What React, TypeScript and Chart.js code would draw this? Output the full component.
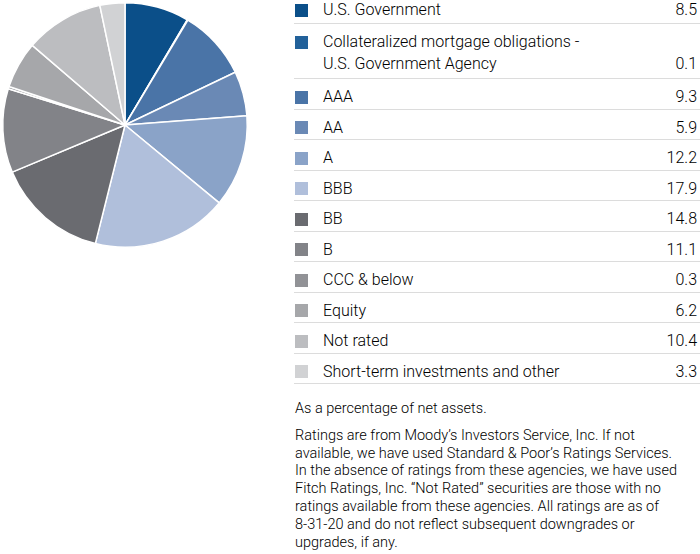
import React, { useEffect, useRef } from "react";
import { Chart, registerables } from "chart.js";

Chart.register(...registerables);

const categories = [
  "U.S. Government",
  "Collateralized mortgage obligations -\nU.S. Government Agency",
  "AAA",
  "AA",
  "A",
  "BBB",
  "BB",
  "B",
  "CCC & below",
  "Equity",
  "Not rated",
  "Short-term investments and other",
];

const percentages = [8.5, 0.1, 9.3, 5.9, 12.2, 17.9, 14.8, 11.1, 0.3, 6.2, 10.4, 3.3];

const sliceColors = [
  "#0b4f89",
  "#22619a",
  "#4a74a7",
  "#6a89b5",
  "#8aa3c8",
  "#b0bfdb",
  "#6a6b70",
  "#828388",
  "#919296",
  "#a6a7aa",
  "#bcbdc0",
  "#d1d2d4",
];

const noteLines = [
  "Ratings are from Moody\u2019s Investors Service, Inc. If not",
  "available, we have used Standard & Poor\u2019s Ratings Services.",
  "In the absence of ratings from these agencies, we have used",
  "Fitch Ratings, Inc. \u201cNot Rated\u201d securities are those with no",
  "ratings available from these agencies. All ratings are as of",
  "8-31-20 and do not reflect subsequent downgrades or",
  "upgrades, if any.",
];

const FONT = "Roboto, 'Open Sans', sans-serif";
const TEXT = "#000000";

export default function App() {
  const ref = useRef<HTMLCanvasElement | null>(null);

  useEffect(() => {
    if (!ref.current) return;
    const chart = new Chart(ref.current, {
      type: "pie",
      data: {
        labels: categories,
        datasets: [
          {
            data: percentages,
            backgroundColor: sliceColors,
            borderColor: "#ffffff",
            borderWidth: 1.5,
          },
        ],
      },
      options: {
        responsive: false,
        animation: false,
        layout: { padding: 2 },
        plugins: {
          legend: { display: false },
          tooltip: { enabled: false },
        },
      },
    });
    return () => chart.destroy();
  }, []);

  return (
    <div
      style={{
        position: "absolute",
        left: 0,
        top: 0,
        width: 700,
        height: 554,
        background: "#fff",
        fontFamily: FONT,
        fontWeight: 300,
        color: TEXT,
      }}
    >
      <canvas
        ref={ref}
        width={250}
        height={250}
        style={{ position: "absolute", left: 0, top: 0, width: 250, height: 250 }}
      />
      <div style={{ position: "absolute", left: 294, top: -1, width: 406 }}>
        {categories.map((c, i) => {
          const lines = c.split("\n");
          const first = i === 0;
          const multi = lines.length > 1;
          return (
            <div
              key={i}
              style={{
                position: "relative",
                boxSizing: "border-box",
                height: first ? 25 : multi ? 55 : 30.5,
                paddingTop: first ? 0 : 7,
                borderBottom: "1px solid #dcdcdc",
                fontSize: 16,
                lineHeight: "22px",
              }}
            >
              <div
                style={{
                  position: "absolute",
                  left: 1,
                  top: (first ? 0 : 7) + 4.5,
                  width: 13,
                  height: 13,
                  background: sliceColors[i],
                }}
              />
              <div style={{ marginLeft: 29, whiteSpace: "pre" }}>{c}</div>
              <div
                style={{
                  position: "absolute",
                  right: 3,
                  top: (first ? 0 : 7) + (lines.length - 1) * 22,
                }}
              >
                {percentages[i].toFixed(1)}
              </div>
            </div>
          );
        })}
      </div>
      <div
        style={{
          position: "absolute",
          left: 295,
          top: 400,
          fontSize: 14.5,
          lineHeight: "17.8px",
          whiteSpace: "nowrap",
        }}
      >
        <div style={{ marginBottom: 9 }}>As a percentage of net assets.</div>
        {noteLines.map((l, i) => (
          <div key={i}>{l}</div>
        ))}
      </div>
    </div>
  );
}
